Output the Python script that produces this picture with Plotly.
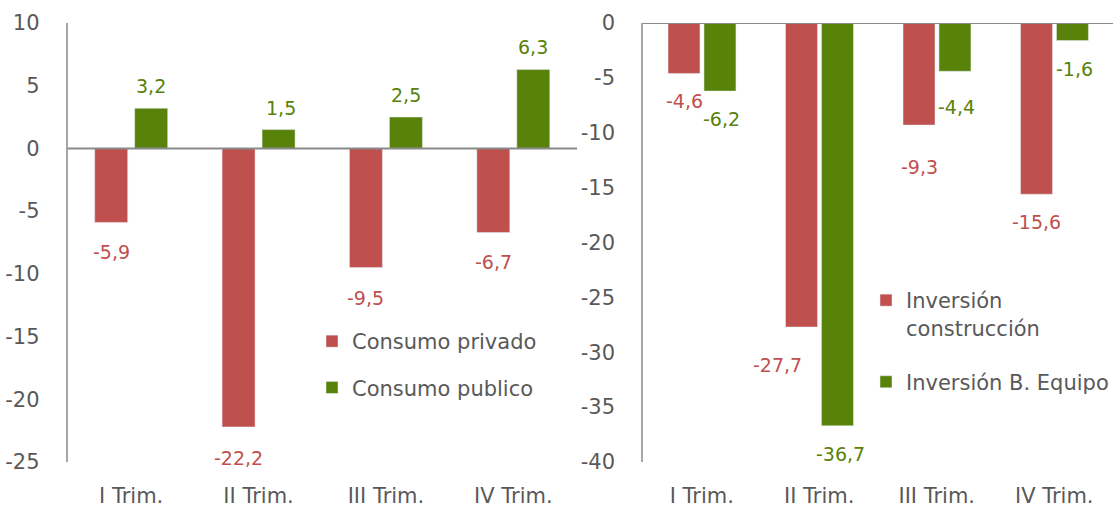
import plotly.graph_objects as go

# ---------------- data ----------------
categories = ["I Trim.", "II Trim.", "III Trim.", "IV Trim."]
consumo_privado = [-5.9, -22.2, -9.5, -6.7]
consumo_publico = [3.2, 1.5, 2.5, 6.3]
inversion_construccion = [-4.6, -27.7, -9.3, -15.6]
inversion_equipo = [-6.2, -36.7, -4.4, -1.6]

left_ticks = [10, 5, 0, -5, -10, -15, -20, -25]
right_ticks = [0, -5, -10, -15, -20, -25, -30, -35, -40]

# ---------------- style ----------------
RED = "#C0504D"
GREEN = "#588209"
TXT = "#595959"
FONT = "DejaVu Sans"
W, H = 1114, 512
MT, MB = 23, 50


def fmt(v):
    return f"{v:.1f}".replace(".", ",")


def px_x(px):
    return px / W


def px_y(py):
    return (H - MB - py) / (H - MT - MB)


fig = go.Figure()

# left chart bars
fig.add_trace(go.Bar(x=categories, y=consumo_privado, name="Consumo privado",
                     marker_color=RED, width=0.259, offset=-0.2865,
                     xaxis="x", yaxis="y", legend="legend", legendgroup="a"))
fig.add_trace(go.Bar(x=categories, y=consumo_publico, name="Consumo publico",
                     marker_color=GREEN, width=0.259, offset=0.0275,
                     xaxis="x", yaxis="y", legend="legend", legendgroup="b"))

# right chart bars
fig.add_trace(go.Bar(x=categories, y=inversion_construccion,
                     name="Inversión<br>construcción",
                     marker_color=RED, width=0.272, offset=-0.287,
                     xaxis="x2", yaxis="y2", legend="legend2", legendgroup="c"))
fig.add_trace(go.Bar(x=categories, y=inversion_equipo, name="Inversión B. Equipo",
                     marker_color=GREEN, width=0.272, offset=0.019,
                     xaxis="x2", yaxis="y2", legend="legend2", legendgroup="d"))

# data labels (pixel offsets relative to bar end)
annotations = []
left_red_shift = [(-20, -30), (-20, -31), (-20, -30), (-20, -30)]
left_green_shift = [(20, 22), (22, 22), (20, 22), (20, 22)]
right_red_shift = [(-17, -28), (-42, -38), (-17, -42), (-18, -28)]
right_green_shift = [(20, -28), (21, -28), (20, -36), (20, -28)]

for series, shifts, color, xr, yr in [
    (consumo_privado, left_red_shift, RED, "x", "y"),
    (consumo_publico, left_green_shift, GREEN, "x", "y"),
    (inversion_construccion, right_red_shift, RED, "x2", "y2"),
    (inversion_equipo, right_green_shift, GREEN, "x2", "y2"),
]:
    for c, v, (dx, dy) in zip(categories, series, shifts):
        annotations.append(dict(x=c, y=v, xref=xr, yref=yr, text=fmt(v),
                                showarrow=False, xshift=dx, yshift=dy,
                                xanchor="center", yanchor="middle",
                                font=dict(family=FONT, size=19, color=color)))

shapes = [
    dict(type="line", xref="x domain", yref="y", x0=0, x1=1, y0=0, y1=0,
         line=dict(color="#898989", width=2), layer="above"),
    dict(type="line", xref="x2 domain", yref="y2", x0=0, x1=1, y0=0, y1=0,
         line=dict(color="#898989", width=2), layer="above"),
]

axis_common = dict(showgrid=False, zeroline=False, ticks="",
                   tickfont=dict(family=FONT, size=21, color=TXT))

fig.update_layout(
    width=W, height=H,
    margin=dict(l=0, r=0, t=MT, b=MB),
    paper_bgcolor="white", plot_bgcolor="white",
    barmode="group",
    showlegend=True,
    font=dict(family=FONT, size=20, color=TXT),
    xaxis=dict(domain=[px_x(67.5), px_x(577)], range=[-0.5, 3.5],
               showline=False, ticklabelstandoff=19, anchor="y", **axis_common),
    yaxis=dict(range=[-25, 10], tickvals=left_ticks,
               ticktext=[str(t) for t in left_ticks], showline=True,
               linecolor="#A6A6A6", linewidth=1.5, ticklabelstandoff=22,
               anchor="x", **axis_common),
    xaxis2=dict(domain=[px_x(643), px_x(1113)], range=[-0.5, 3.5],
                showline=False, ticklabelstandoff=19, anchor="y2", **axis_common),
    yaxis2=dict(range=[-40, 0], tickvals=right_ticks,
                ticktext=[str(t) for t in right_ticks], showline=True,
                linecolor="#A6A6A6", linewidth=1.5, ticklabelstandoff=22,
                anchor="x2", **axis_common),
    legend=dict(x=px_x(312), y=px_y(321), xanchor="left", yanchor="top",
                bgcolor="rgba(0,0,0,0)", traceorder="grouped", tracegroupgap=16,
                itemwidth=30,
                font=dict(family=FONT, size=21, color=TXT)),
    legend2=dict(x=px_x(866), y=px_y(280), xanchor="left", yanchor="top",
                 bgcolor="rgba(0,0,0,0)", traceorder="grouped", tracegroupgap=24,
                 valign="top", font=dict(family=FONT, size=21, color=TXT)),
    annotations=annotations,
    shapes=shapes,
)

fig.write_html("out.html", config={"displayModeBar": False},
               post_script="document.body.style.margin='0';document.body.style.overflow='hidden';")
